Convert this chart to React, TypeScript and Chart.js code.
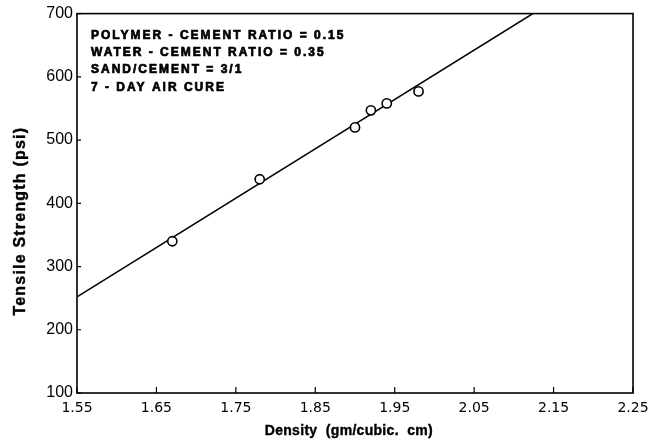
import React, { useEffect, useRef } from "react";
import { Chart, registerables } from "chart.js";

Chart.register(...registerables);

const density = [1.67, 1.78, 1.9, 1.92, 1.94, 1.98];
const tensile = [340, 438, 520, 547, 558, 577];
const fitX = [1.55, 2.124];
const fitY = [252, 700];
const xTicks = [1.55, 1.65, 1.75, 1.85, 1.95, 2.05, 2.15, 2.25];
const yTicks = [100, 200, 300, 400, 500, 600, 700];
const notes = [
  "POLYMER - CEMENT RATIO = 0.15",
  "WATER - CEMENT RATIO = 0.35",
  "SAND/CEMENT = 3/1",
  "7 - DAY AIR CURE",
];
const xTitle = "Density  (gm/cubic.  cm)";
const yTitle = "Tensile Strength (psi)";

const framePlugin = {
  id: "frame",
  afterDatasetsDraw(chart: any) {
    const { ctx, chartArea: a, scales } = chart;
    ctx.save();
    ctx.strokeStyle = "#000";
    ctx.lineWidth = 1.6;
    ctx.strokeRect(a.left, a.top, a.right - a.left, a.bottom - a.top);
    // inward ticks
    ctx.lineWidth = 1.2;
    ctx.beginPath();
    for (const v of xTicks) {
      const px = scales.x.getPixelForValue(v);
      ctx.moveTo(px, a.bottom);
      ctx.lineTo(px, a.bottom - 6);
    }
    for (const v of yTicks) {
      const py = scales.y.getPixelForValue(v);
      ctx.moveTo(a.left, py);
      ctx.lineTo(a.left + 4, py);
    }
    ctx.stroke();
    // notes
    ctx.fillStyle = "#000";
    ctx.lineWidth = 0.7;
    ctx.font = "bold 12px 'Liberation Sans', Arial, sans-serif";
    (ctx as any).letterSpacing = "2px";
    ctx.textAlign = "left";
    ctx.textBaseline = "alphabetic";
    notes.forEach((t, i) => {
      const y = a.top + 25 + i * 17.3;
      ctx.fillText(t, a.left + 14, y);
      ctx.strokeText(t, a.left + 14, y);
    });
    // axis titles
    ctx.lineWidth = 0.4;
    ctx.font = "bold 14px 'Liberation Sans', Arial, sans-serif";
    (ctx as any).letterSpacing = "0.3px";
    ctx.textAlign = "center";
    ctx.textBaseline = "middle";
    const xt = a.left + (a.right - a.left) * 0.489;
    ctx.fillText(xTitle, xt, a.bottom + 38);
    ctx.strokeText(xTitle, xt, a.bottom + 38);
    ctx.translate(21, a.top + (a.bottom - a.top) * 0.547);
    ctx.rotate(-Math.PI / 2);
    ctx.font = "bold 16px 'Liberation Sans', Arial, sans-serif";
    (ctx as any).letterSpacing = "1.2px";
    ctx.fillText(yTitle, 0, 0);
    ctx.strokeText(yTitle, 0, 0);
    ctx.restore();
  },
};

export default function App() {
  const ref = useRef<HTMLCanvasElement | null>(null);
  useEffect(() => {
    if (!ref.current) return;
    const chart = new Chart(ref.current, {
      type: "scatter",
      data: {
        datasets: [
          {
            label: "Measured",
            data: density.map((x, i) => ({ x, y: tensile[i] })),
            pointRadius: 4.6,
            pointBorderWidth: 1.6,
            pointBorderColor: "#000",
            pointBackgroundColor: "#fff",
            showLine: false,
          },
          {
            label: "Fit",
            data: fitX.map((x, i) => ({ x, y: fitY[i] })),
            showLine: true,
            borderColor: "#000",
            borderWidth: 1.6,
            pointRadius: 0,
            fill: false,
          },
        ],
      },
      options: {
        responsive: false,
        devicePixelRatio: 1,
        animation: false,
        layout: { padding: { left: 0, top: 13, right: 30, bottom: 0 } },
        plugins: { legend: { display: false }, tooltip: { enabled: false } },
        scales: {
          x: {
            type: "linear",
            min: 1.55,
            max: 2.25,
            afterBuildTicks: (s: any) => {
              s.ticks = xTicks.map((v) => ({ value: v }));
            },
            afterFit: (s: any) => {
              s.height = 51;
            },
            grid: { display: false, drawTicks: false },
            border: { display: false },
            ticks: {
              color: "#000",
              padding: 7,
              maxRotation: 0,
              autoSkip: false,
              font: { family: "'DejaVu Sans', sans-serif", size: 14 },
              callback: (v: any) => Number(v).toFixed(2),
            },
            title: { display: false },
          },
          y: {
            type: "linear",
            min: 100,
            max: 700,
            afterBuildTicks: (s: any) => {
              s.ticks = yTicks.map((v) => ({ value: v }));
            },
            afterFit: (s: any) => {
              s.width = 77;
            },
            grid: { display: false, drawTicks: false },
            border: { display: false },
            ticks: {
              color: "#000",
              padding: 4,
              autoSkip: false,
              font: { family: "'Liberation Sans', Arial, sans-serif", size: 16 },
            },
            title: { display: false },
          },
        },
      },
      plugins: [framePlugin],
    } as any);
    return () => chart.destroy();
  }, []);
  return (
    <div style={{ position: "absolute", left: 0, top: 0, width: 663, height: 444, background: "#fff" }}>
      <canvas ref={ref} width={663} height={444} style={{ display: "block" }} />
    </div>
  );
}
